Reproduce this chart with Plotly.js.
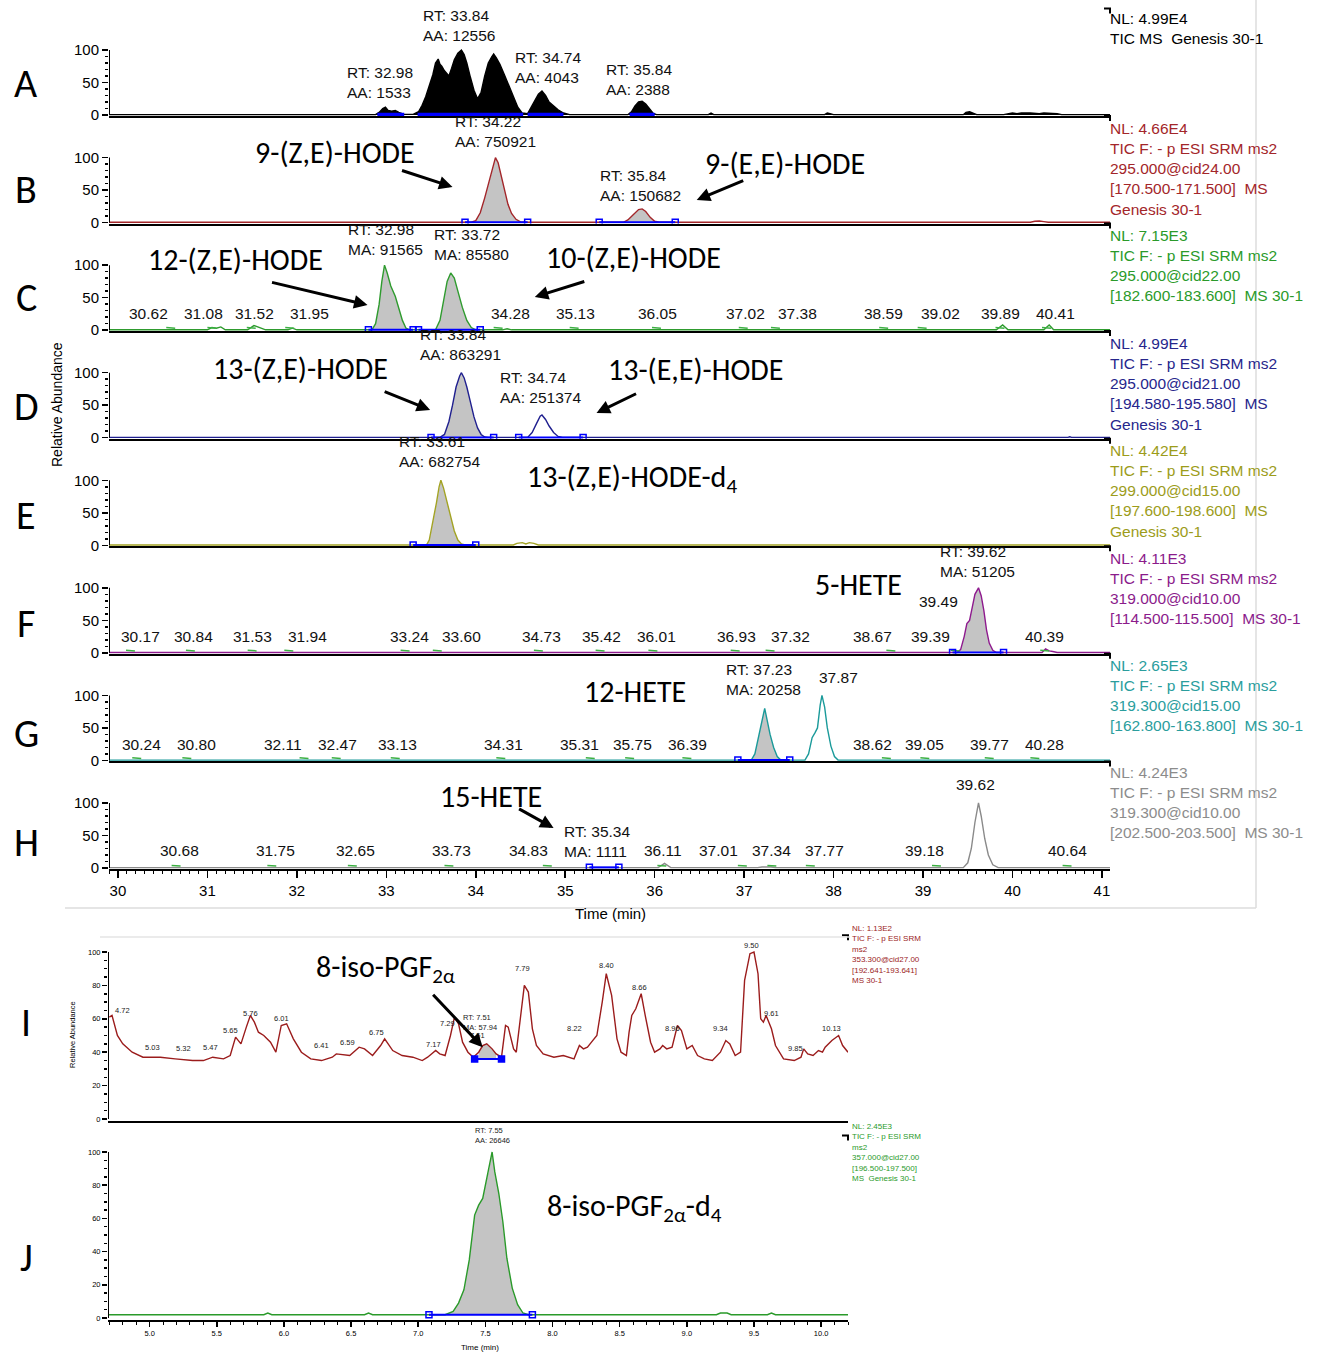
<!DOCTYPE html>
<html><head><meta charset="utf-8">
<script src="https://cdn.plot.ly/plotly-3.0.1.min.js"></script>
<style>html,body{margin:0;padding:0;background:#fff}</style>
</head><body><div id="chart" style="width:1331px;height:1353px"></div>
<script>
// ---------------- DATA (time in min, relative abundance in %) ----------------
const A_pts = [[29.9,0.5],[32.88,0.5],[32.92,4],[32.96,10],[32.99,12],[33.02,7],[33.06,6],[33.1,7],[33.14,4],[33.2,1],[33.3,1],[33.36,5],[33.4,15],[33.44,28],[33.48,45],[33.52,62],[33.55,80],[33.58,86],[33.6,78],[33.62,75],[33.65,68],[33.68,62],[33.7,60],[33.73,72],[33.76,85],[33.8,95],[33.84,100],[33.87,93],[33.9,80],[33.94,58],[33.98,38],[34.02,25],[34.06,35],[34.1,60],[34.14,80],[34.18,90],[34.2,94],[34.23,88],[34.27,78],[34.32,62],[34.37,45],[34.42,28],[34.47,12],[34.52,3],[34.58,2],[34.62,12],[34.66,22],[34.7,32],[34.74,37],[34.78,30],[34.82,20],[34.87,14],[34.92,8],[34.98,3],[35.05,0.5],[35.7,0.5],[35.74,5],[35.78,14],[35.82,20],[35.86,21],[35.9,17],[35.94,10],[35.98,3],[36.02,0.5],[36.6,0.5],[36.63,3],[36.66,0.5],[37.9,0.5],[37.93,3],[37.96,2],[38.0,0.5],[39.45,0.5],[39.48,4],[39.52,5],[39.56,3],[39.6,0.5],[39.9,0.5],[40.0,3],[40.05,2],[40.1,3],[40.2,3],[40.3,2],[40.35,3],[40.5,2],[40.55,0.5],[41.09,0.5]];
const B_pts = [[29.9,0.5],[33.95,0.5],[34.0,3],[34.05,15],[34.1,38],[34.14,60],[34.17,72],[34.2,90],[34.22,100],[34.25,92],[34.28,75],[34.32,50],[34.36,28],[34.4,14],[34.45,5],[34.5,1],[34.55,0.5],[35.65,0.5],[35.7,4],[35.76,12],[35.82,20],[35.86,21],[35.9,17],[35.95,8],[36.0,2],[36.05,0.5],[40.2,0.5],[40.25,2],[40.3,2.5],[40.35,1.5],[40.4,0.5],[41.09,0.5]];
const C_pts = [[29.9,0.5],[30.55,0.5],[30.6,1.5],[30.65,0.5],[31.0,0.5],[31.05,4],[31.1,3],[31.15,5],[31.2,0.5],[31.45,0.5],[31.52,7],[31.6,3],[31.65,0.5],[31.9,0.5],[31.95,3],[32.0,0.5],[32.84,0.5],[32.88,10],[32.92,40],[32.95,75],[32.98,100],[33.01,88],[33.05,68],[33.1,52],[33.14,35],[33.18,15],[33.22,3],[33.26,0.5],[33.55,0.5],[33.6,15],[33.64,45],[33.68,75],[33.72,88],[33.76,80],[33.8,60],[33.85,35],[33.9,15],[33.95,4],[34.0,0.5],[34.3,0.5],[34.35,2],[34.4,0.5],[39.82,0.5],[39.89,8],[39.95,0.5],[40.35,0.5],[40.41,8],[40.46,0.5],[41.09,0.5]];
const D_pts = [[29.9,0.5],[33.6,0.5],[33.65,5],[33.7,25],[33.74,50],[33.78,78],[33.82,95],[33.84,100],[33.87,92],[33.9,78],[33.94,55],[33.98,32],[34.02,15],[34.06,5],[34.1,1],[34.14,0.5],[34.58,0.5],[34.63,8],[34.68,22],[34.72,33],[34.74,35],[34.78,28],[34.82,18],[34.87,8],[34.92,2],[34.97,0.5],[40.62,0.5],[40.64,1.5],[40.66,0.5],[41.09,0.5]];
const E_pts = [[29.9,0.5],[33.45,0.5],[33.48,8],[33.52,35],[33.56,65],[33.59,90],[33.61,100],[33.64,88],[33.68,65],[33.72,42],[33.76,22],[33.8,8],[33.84,2],[33.88,0.5],[34.42,0.5],[34.46,3],[34.52,4],[34.56,2],[34.6,4],[34.65,3],[34.7,0.5],[41.09,0.5]];
const F_pts = [[29.9,0.5],[33.2,0.5],[33.24,1.5],[33.28,0.5],[35.98,0.5],[36.01,1.5],[36.04,0.5],[36.9,0.5],[36.93,1.5],[36.96,0.5],[39.38,0.5],[39.42,5],[39.46,25],[39.49,45],[39.52,50],[39.55,70],[39.58,90],[39.62,100],[39.65,88],[39.68,65],[39.71,35],[39.74,15],[39.78,4],[39.82,0.5],[40.33,0.5],[40.37,6],[40.41,3],[40.45,2],[40.5,0.5],[41.09,0.5]];
const G_pts = [[29.9,0.5],[37.08,0.5],[37.12,10],[37.16,35],[37.2,62],[37.23,80],[37.26,60],[37.29,40],[37.33,20],[37.37,6],[37.41,0.5],[37.68,0.5],[37.72,10],[37.76,35],[37.79,42],[37.82,50],[37.85,85],[37.87,100],[37.9,82],[37.93,50],[37.97,22],[38.01,6],[38.05,0.5],[41.09,0.5]];
const H_pts = [[29.9,0.5],[36.04,0.5],[36.11,7],[36.18,0.5],[37.15,0.5],[37.2,1.5],[37.3,1.5],[37.35,0.5],[39.45,0.5],[39.5,8],[39.54,30],[39.58,70],[39.62,100],[39.65,80],[39.69,45],[39.73,20],[39.78,5],[39.84,0.5],[41.09,0.5]];
const I_pts = [[4.70,61],[4.72,62],[4.76,50],[4.80,45],[4.87,40],[4.95,37],[5.03,37],[5.08,37],[5.19,36],[5.32,35],[5.40,35],[5.47,37],[5.55,36],[5.60,38],[5.64,49],[5.68,45],[5.72,55],[5.75,62],[5.78,58],[5.81,52],[5.85,50],[5.90,46],[5.94,40],[5.98,56],[6.02,57],[6.07,48],[6.13,40],[6.20,36],[6.28,35],[6.36,37],[6.39,39],[6.43,38.5],[6.49,38],[6.56,43],[6.60,42],[6.66,38],[6.72,44],[6.75,48],[6.81,41],[6.88,38],[6.96,37],[7.03,35],[7.07,37],[7.13,41],[7.16,39],[7.20,38],[7.24,50],[7.27,61],[7.30,57],[7.33,46],[7.37,40],[7.41,37],[7.45,40],[7.48,44],[7.51,45],[7.55,42],[7.58,39],[7.62,37],[7.65,56],[7.67,55],[7.71,42],[7.73,40],[7.76,62],[7.79,80],[7.82,76],[7.85,54],[7.88,44],[7.93,39],[8.01,37],[8.08,38],[8.16,36],[8.20,44],[8.23,42],[8.26,43],[8.29,46],[8.33,50],[8.37,70],[8.40,87],[8.44,74],[8.48,48],[8.51,40],[8.55,38],[8.57,52],[8.59,62],[8.62,66],[8.66,75],[8.69,62],[8.73,46],[8.76,40],[8.80,42],[8.82,44],[8.85,42],[8.89,43],[8.93,56],[8.96,53],[9.00,42],[9.04,44],[9.08,38],[9.13,36],[9.19,35],[9.25,40],[9.29,47],[9.32,45],[9.36,38],[9.40,40],[9.43,83],[9.47,99],[9.50,100],[9.53,87],[9.55,60],[9.57,58],[9.59,62],[9.63,54],[9.66,44],[9.72,36],[9.80,35],[9.85,37],[9.87,42],[9.90,39],[9.94,38],[9.98,41],[10.01,40],[10.03,43],[10.08,47],[10.13,50],[10.16,44],[10.2,40]];
const J_pts = [[4.69,2],[5.85,2],[5.88,3],[5.91,2],[6.6,2],[6.63,3],[6.66,2],[7.2,2],[7.26,4],[7.3,9],[7.34,17],[7.38,35],[7.42,62],[7.45,68],[7.48,72],[7.5,80],[7.53,90],[7.55,100],[7.57,88],[7.6,75],[7.63,58],[7.66,36],[7.7,18],[7.74,8],[7.78,3],[7.82,2],[9.22,2],[9.25,3],[9.3,3],[9.33,2],[9.6,2],[9.63,3],[9.66,2],[10.2,2]];

// integrated (grey) peak windows and integration baselines
const A_fill = [], H_fill = [];
const B_fill = [[33.95,34.55],[35.65,36.05]];
const C_fill = [[32.84,33.26],[33.55,34.0]];
const D_fill = [[33.6,34.14]];
const E_fill = [[33.45,33.88]];
const F_fill = [[39.38,39.82]];
const G_fill = [[37.08,37.41]];
const I_fill = [[7.45,7.58]];
const J_fill = [[7.2,7.82]];
const A_base = [[32.9,33.2],[33.35,34.53],[34.58,34.98],[35.72,36.0]];
const B_base = [[33.88,34.58],[35.38,36.23]];
const C_base = [[32.8,33.3],[33.36,34.05]];
const D_base = [[33.5,34.2],[34.48,35.2]];
const E_base = [[33.3,34.0]];
const F_base = [[39.33,39.9]];
const G_base = [[36.93,37.51]];
const H_base = [[35.27,35.6]];
const I_base = [[7.42,7.62]];
const J_base = [[7.08,7.85]];
const baseLevels = [0.5,0.5,0.5,0.5,0.5,0.5,0.5,1,36,2];

// peak labels: [text, x, y(bottom)]
const A_peakLab = [['RT: 32.98<br>AA: 1533',32.93,18.5],['RT: 33.84<br>AA: 12556',33.81,106],['RT: 34.74<br>AA: 4043',34.81,41.5],['RT: 35.84<br>AA: 2388',35.82,23]];
const B_peakLab = [['RT: 34.22<br>AA: 750921',34.22,108],['RT: 35.84<br>AA: 150682',35.84,25]];
const C_peakLab = [['RT: 32.98<br>MA: 91565',32.99,108],['RT: 33.72<br>MA: 85580',33.95,100]];
const D_peakLab = [['RT: 33.84<br>AA: 863291',33.83,112],['RT: 34.74<br>AA: 251374',34.72,45.7]];
const E_peakLab = [['RT: 33.61<br>AA: 682754',33.6,112.7]];
const F_peakLab = [['RT: 39.62<br>MA: 51205',39.61,109],['39.49',39.17,63]];
const G_peakLab = [['RT: 37.23<br>MA: 20258',37.22,93],['37.87',38.05,111]];
const H_peakLab = [['RT: 35.34<br>MA: 1111',35.35,9],['39.62',39.59,112]];
// small retention-time labels: [text, x]
const C_rt = [['30.62',30.34],['31.08',30.96],['31.52',31.53],['31.95',32.14],['34.28',34.39],['35.13',35.12],['36.05',36.03],['37.02',37.01],['37.38',37.6],['38.59',38.56],['39.02',39.19],['39.89',39.87],['40.41',40.48]];
const F_rt = [['30.17',30.25],['30.84',30.84],['31.53',31.5],['31.94',32.12],['33.24',33.26],['33.60',33.84],['34.73',34.73],['35.42',35.4],['36.01',36.02],['36.93',36.92],['37.32',37.52],['38.67',38.44],['39.39',39.08],['40.39',40.36]];
const G_rt = [['30.24',30.26],['30.80',30.88],['32.11',31.85],['32.47',32.45],['33.13',33.12],['34.31',34.31],['35.31',35.16],['35.75',35.75],['36.39',36.37],['38.62',38.44],['39.05',39.02],['39.77',39.74],['40.28',40.36]];
const H_rt = [['30.68',30.69],['31.75',31.76],['32.65',32.65],['33.73',33.73],['34.83',34.59],['36.11',36.09],['37.01',36.71],['37.34',37.31],['37.77',37.9],['39.18',39.02],['40.64',40.61]];
const I_lab = [['4.72',4.80,64.7],['5.03',5.02,43],['5.32',5.25,42.5],['5.47',5.45,43],['5.65',5.60,53],['5.76',5.75,63],['6.01',5.98,60],['6.41',6.28,44],['6.59',6.47,46],['6.75',6.69,52],['7.17',7.11,44.5],['7.29',7.22,57],['RT: 7.51<br>MA: 57.94',7.46,58],['7.51',7.44,50],['7.79',7.78,90],['8.22',8.16,54],['8.40',8.40,92],['8.66',8.65,79],['8.96',8.89,54],['9.34',9.25,54],['9.50',9.48,104],['9.61',9.63,63],['9.85',9.81,42],['10.13',10.08,54]];
const J_lab = [['RT: 7.55<br>AA: 26646',7.55,103]];

const panelLetters = ['A','B','C','D','E','F','G','H','I','J'];
const headerTexts = [
 'NL: 4.99E4<br>TIC MS\u00a0 Genesis 30-1',
 'NL: 4.66E4<br>TIC F: - p ESI SRM ms2<br>295.000@cid24.00<br>[170.500-171.500]\u00a0 MS<br>Genesis 30-1',
 'NL: 7.15E3<br>TIC F: - p ESI SRM ms2<br>295.000@cid22.00<br>[182.600-183.600]\u00a0 MS 30-1',
 'NL: 4.99E4<br>TIC F: - p ESI SRM ms2<br>295.000@cid21.00<br>[194.580-195.580]\u00a0 MS<br>Genesis 30-1',
 'NL: 4.42E4<br>TIC F: - p ESI SRM ms2<br>299.000@cid15.00<br>[197.600-198.600]\u00a0 MS<br>Genesis 30-1',
 'NL: 4.11E3<br>TIC F: - p ESI SRM ms2<br>319.000@cid10.00<br>[114.500-115.500]\u00a0 MS 30-1',
 'NL: 2.65E3<br>TIC F: - p ESI SRM ms2<br>319.300@cid15.00<br>[162.800-163.800]\u00a0 MS 30-1',
 'NL: 4.24E3<br>TIC F: - p ESI SRM ms2<br>319.300@cid10.00<br>[202.500-203.500]\u00a0 MS 30-1',
 'NL: 1.13E2<br>TIC F: - p ESI SRM<br>ms2<br>353.300@cid27.00<br>[192.641-193.641]<br>MS 30-1',
 'NL: 2.45E3<br>TIC F: - p ESI SRM<br>ms2<br>357.000@cid27.00<br>[196.500-197.500]<br>MS\u00a0 Genesis 30-1'
];
const compoundNames = ['9-(Z,E)-HODE','9-(E,E)-HODE','12-(Z,E)-HODE','10-(Z,E)-HODE','13-(Z,E)-HODE','13-(E,E)-HODE','13-(Z,E)-HODE-d<sub>4</sub>','5-HETE','12-HETE','15-HETE','8-iso-PGF<sub>2α</sub>','8-iso-PGF<sub>2α</sub>-d<sub>4</sub>'];

// ---------------- STYLE / LAYOUT ----------------
const W = 1331, H = 1353;
const FONT = 'Liberation Sans, Arial, sans-serif';
const BIG = 'Carlito, Calibri, Lato, sans-serif';
const colors = ['#000000','#a3262a','#2e9b2e','#1f1f8f','#a3a324','#8e1a8e','#1a9a9a','#8a8a8a','#9b1c1c','#2a9a2a'];
const textColors = ['#000000','#a3262a','#2a9a2a','#26268c','#9c9c1a','#8b1b8b','#2a9d9d','#8c8c8c','#9b1c1c','#2a9a2a'];
const allPts = [A_pts,B_pts,C_pts,D_pts,E_pts,F_pts,G_pts,H_pts,I_pts,J_pts];
const allFill = [A_fill,B_fill,C_fill,D_fill,E_fill,F_fill,G_fill,H_fill,I_fill,J_fill];
const allBase = [A_base,B_base,C_base,D_base,E_base,F_base,G_base,H_base,I_base,J_base];
const allPeakLab = [A_peakLab,B_peakLab,C_peakLab,D_peakLab,E_peakLab,F_peakLab,G_peakLab,H_peakLab];
const allRt = [[],[],C_rt,[],[],F_rt,G_rt,H_rt];

const py = p => 1 - p / H;
const px = p => p / W;
const layout = {width:W, height:H, margin:{l:0,r:0,t:0,b:0}, paper_bgcolor:'#fff', plot_bgcolor:'rgba(0,0,0,0)',
  showlegend:false, hovermode:false, font:{family:FONT, color:'#000', size:15}, annotations:[], shapes:[]};
const traces = [];
const ax = k => (k === 0 ? '' : String(k + 1));

for (let k = 0; k < 10; k++) {
  const top = k < 8;
  const xr = 'x' + ax(k), yr = 'y' + ax(k);
  let xdom, ydom, xrange, yrange;
  if (top) {
    const base = 115 + k * 107.57;
    xdom = [px(109), px(1110)]; xrange = [29.9, 41.09]; yrange = [-1.5, 164];
    ydom = [py(base + 1.5 * 0.65), py(base - 164 * 0.65)];
  } else if (k === 8) {
    xdom = [px(108), px(848)]; xrange = [4.69, 10.2]; yrange = [-1, 110];
    ydom = [py(1119 + 1.67), py(1119 - 110 * 1.67)];
  } else {
    xdom = [px(108), px(848)]; xrange = [4.69, 10.2]; yrange = [-1, 110];
    ydom = [py(1318 + 1.66), py(1318 - 110 * 1.66)];
  }
  const xa = {domain:xdom, range:xrange, anchor:yr, showline:true, linecolor:'#000', linewidth:2, showgrid:false, zeroline:false, fixedrange:true, ticks:'', showticklabels:false};
  if (k === 7) Object.assign(xa, {ticks:'outside', ticklen:7, tickwidth:1.5, tickcolor:'#000', showticklabels:true, tickmode:'linear', tick0:30, dtick:1, tickfont:{size:15},
     minor:{dtick:0.1, ticks:'outside', ticklen:3, tickcolor:'#000', tickwidth:1}});
  if (k === 9) Object.assign(xa, {ticks:'outside', ticklen:5, tickwidth:1.5, tickcolor:'#000', showticklabels:true, tickmode:'linear', tick0:5, dtick:0.5, tickformat:'.1f', tickfont:{size:7.5},
     minor:{dtick:0.1, ticks:'outside', ticklen:3, tickcolor:'#000', tickwidth:1}});
  const ya = {domain:ydom, range:yrange, anchor:xr, showline:false, showgrid:false, zeroline:false, fixedrange:true,
     ticks:'outside', tickcolor:'#000', tickwidth:1.5};
  if (top) Object.assign(ya, {tickmode:'array', tickvals:[0,50,100], ticklen:6, tickfont:{size:15},
     minor:{tickmode:'array', tickvals:[10,20,30,40,60,70,80,90], ticks:'outside', ticklen:3, tickcolor:'#000'}});
  else Object.assign(ya, {tickmode:'array', tickvals:[0,20,40,60,80,100], ticklen:5, tickfont:{size:7.5},
     minor:{tickmode:'array', tickvals:[5,10,15,25,30,35,45,50,55,65,70,75,85,90,95], ticks:'outside', ticklen:3, tickcolor:'#000'}});
  layout['xaxis' + ax(k)] = xa;
  layout['yaxis' + ax(k)] = ya;
  layout.shapes.push({type:'line', xref:xr, yref:yr, x0:xrange[0], x1:xrange[0], y0:0, y1:100, line:{color:'#000', width:2}});
  // small corner mark at the top-right end of each panel frame
  layout.shapes.push({type:'path', xref:'paper', yref:'paper', path:'M' + (xdom[1] - 6 / W) + ',' + ydom[1] + ' L' + xdom[1] + ',' + ydom[1] + ' L' + xdom[1] + ',' + (ydom[1] - 5 / H), line:{color:'#000', width:2}});

  const pts = allPts[k];
  const lvl = baseLevels[k];
  // grey integrated areas
  allFill[k].forEach(r => {
    const sub = pts.filter(p => p[0] >= r[0] && p[0] <= r[1]);
    if (k >= 8) {
      const xs = sub.map(p => p[0]).concat([r[1], r[0], sub[0][0]]);
      const ys = sub.map(p => p[1]).concat([lvl, lvl, sub[0][1]]);
      traces.push({x:xs, y:ys, xaxis:xr, yaxis:yr, mode:'lines', fill:'toself', fillcolor:'#c4c4c4', line:{width:0, color:'rgba(0,0,0,0)'}});
    } else {
      traces.push({x:sub.map(p => p[0]), y:sub.map(p => p[1]), xaxis:xr, yaxis:yr, mode:'lines', fill:'tozeroy', fillcolor:'#c4c4c4', line:{width:0, color:'rgba(0,0,0,0)'}});
    }
  });
  // chromatogram
  const tr = {x:pts.map(p => p[0]), y:pts.map(p => p[1]), xaxis:xr, yaxis:yr, mode:'lines', line:{color:colors[k], width:1.4}};
  if (k === 0) Object.assign(tr, {fill:'tozeroy', fillcolor:'#000'});
  traces.push(tr);
  // small green peak-label leader marks
  if (top && allRt[k].length) {
    const lx = [], ly = [];
    allRt[k].forEach(l => { const v = parseFloat(l[0]); lx.push(v - 0.08, v + 0.02, null); ly.push(4, 3, null); });
    traces.push({x:lx, y:ly, xaxis:xr, yaxis:yr, mode:'lines', line:{color:'#3cb043', width:1.5}, connectgaps:false});
  }
  // integration baselines
  allBase[k].forEach(r => {
    if (k === 0) traces.push({x:r, y:[lvl, lvl], xaxis:xr, yaxis:yr, mode:'lines', line:{color:'#0000ff', width:4}});
    else traces.push({x:r, y:[lvl, lvl], xaxis:xr, yaxis:yr, mode:'lines+markers', line:{color:'#0000ff', width:2},
      marker:{symbol: k === 8 ? 'square' : 'square-open', size:6, color:'#0000ff', line:{width:1.5, color:'#0000ff'}}});
  });

  // labels
  if (top) {
    allPeakLab[k].forEach(l => layout.annotations.push({xref:xr, yref:yr, x:l[1], y:l[2], text:l[0], showarrow:false, xanchor:'center', yanchor:'bottom', align:'left', font:{size:15.5, color:'#111'}}));
    allRt[k].forEach(l => layout.annotations.push({xref:xr, yref:yr, x:l[1], y:(k === 7 ? 11 : 9), text:l[0], showarrow:false, xanchor:'center', yanchor:'bottom', font:{size:15.5, color:'#111'}}));
  }
  const headTop = top ? [8, 118, 225, 333, 440, 548, 655, 762][k] : (k === 8 ? 922 : 1120);
  layout.annotations.push({xref:'paper', yref:'paper', x:px(top ? 1108 : 850), y:py(headTop), xanchor:'left', yanchor:'top', align:'left',
     text:headerTexts[k], showarrow:false, font:{size: top ? 15.5 : 8, color:textColors[k]}});
  const letterY = [83, 190, 298, 407, 515, 623, 733, 842, 1022, 1257][k];
  layout.annotations.push({xref:'paper', yref:'paper', x:px(26), y:py(letterY), text:panelLetters[k], showarrow:false, xanchor:'center', yanchor:'middle', font:{family:BIG, size:40, color:'#000'}});
}
I_lab.forEach(l => layout.annotations.push({xref:'x9', yref:'y9', x:l[1], y:l[2], text:l[0], showarrow:false, xanchor:'center', yanchor:'middle', align:'left', font:{size:7.5, color:'#222'}}));
J_lab.forEach(l => layout.annotations.push({xref:'x10', yref:'y10', x:l[1], y:l[2], text:l[0], showarrow:false, xanchor:'center', yanchor:'bottom', align:'left', font:{size:7.5, color:'#222'}}));

// compound names (paper px positions)
const namePos = [[335,153],[785,163],[235,259],[633,257],[300,368],[695,370],[632,478],[858,584],[635,691],[491,796],[385,968],[634,1207]];
compoundNames.forEach((t, i) => layout.annotations.push({xref:'paper', yref:'paper', x:px(namePos[i][0]), y:py(namePos[i][1]), text:t, showarrow:false, xanchor:'center', yanchor:'middle', font:{family:BIG, size:30, color:'#000'}}));
// arrows: [axis index, head x, head y, tail dx(px), tail dy(px)]
const arrows = [[1,33.74,54.7,-52,-17],[1,36.47,34.7,48,-20],[2,32.79,38.7,-97,-23],[2,34.66,51,51,-16],[3,33.49,42.6,-47,-19],[3,35.35,38,41,-20],[7,34.87,61.5,-36,-20],[8,7.48,43,-51,-54]];
arrows.forEach(a => layout.annotations.push({xref:'x' + ax(a[0]), yref:'y' + ax(a[0]), x:a[1], y:a[2], ax:a[3], ay:a[4], text:'', showarrow:true, arrowhead:2, arrowsize:0.9, arrowwidth:3, arrowcolor:'#000'}));

// axis titles
layout.annotations.push({xref:'paper', yref:'paper', x:px(57), y:py(405), xanchor:'center', yanchor:'middle', text:'Relative Abundance', textangle:-90, showarrow:false, font:{size:14}});
layout.annotations.push({xref:'paper', yref:'paper', x:px(610), y:py(913), xanchor:'center', yanchor:'middle', text:'Time (min)', showarrow:false, font:{size:15}});
layout.annotations.push({xref:'paper', yref:'paper', x:px(72), y:py(1035), xanchor:'center', yanchor:'middle', text:'Relative Abundance', textangle:-90, showarrow:false, font:{size:7.5}});
layout.annotations.push({xref:'paper', yref:'paper', x:px(480), y:py(1347), xanchor:'center', yanchor:'middle', text:'Time (min)', showarrow:false, font:{size:8}});
// light frame lines
layout.shapes.push({type:'line', xref:'paper', yref:'paper', x0:px(1256), x1:px(1256), y0:py(0), y1:py(908), line:{color:'#dddddd', width:1.5}});
layout.shapes.push({type:'line', xref:'paper', yref:'paper', x0:px(65), x1:px(1256), y0:py(908), y1:py(908), line:{color:'#dddddd', width:1.5}});
layout.shapes.push({type:'line', xref:'paper', yref:'paper', x0:px(100), x1:px(850), y0:py(937), y1:py(937), line:{color:'#e4e4e4', width:1.5}});

Plotly.newPlot('chart', traces, layout, {staticPlot:true, displayModeBar:false});
</script></body></html>
